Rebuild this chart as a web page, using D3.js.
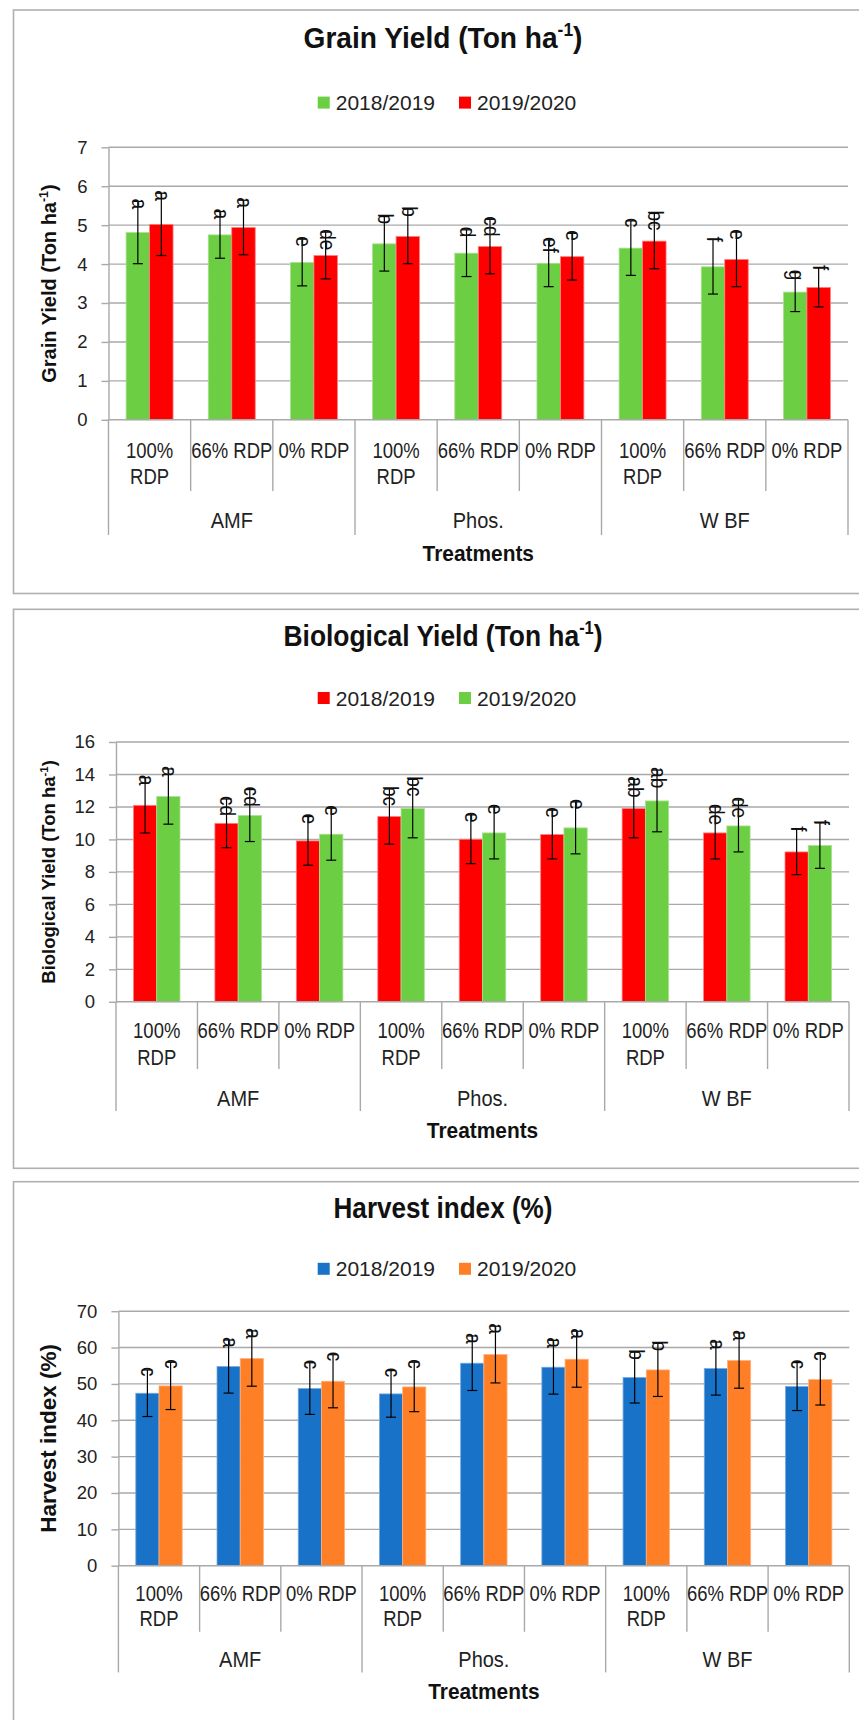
<!DOCTYPE html>
<html><head><meta charset="utf-8">
<script src="https://cdn.jsdelivr.net/npm/d3@7"></script>
<style>body{margin:0;background:#fff} svg{display:block}</style>
</head><body>
<script>
// ---------- DATA ----------
const groups = ["AMF", "Phos.", "W BF"];
const levelLabels = [["100%", "RDP"], ["66% RDP"], ["0% RDP"]];
const seasons = ["2018/2019", "2019/2020"];

// Grain yield (Ton ha-1)
const grainTicks = [0, 1, 2, 3, 4, 5, 6, 7];
const grain1819 = [4.81, 4.75, 4.04, 4.52, 4.28, 4.02, 4.41, 3.93, 3.28];
const grain1819Err = [0.80, 0.60, 0.60, 0.70, 0.60, 0.60, 0.70, 0.70, 0.50];
const grain1819Letters = ["a", "a", "e", "b", "d", "ef", "c", "f", "g"];
const grain1920 = [5.02, 4.94, 4.22, 4.71, 4.45, 4.19, 4.59, 4.12, 3.40];
const grain1920Err = [0.80, 0.70, 0.60, 0.70, 0.70, 0.60, 0.71, 0.70, 0.50];
const grain1920Letters = ["a", "a", "de", "b", "cd", "e", "bc", "e", "f"];

// Biological yield (Ton ha-1)
const bioTicks = [0, 2, 4, 6, 8, 10, 12, 14, 16];
const bio1819 = [12.10, 10.99, 9.91, 11.41, 10.01, 10.30, 11.90, 10.40, 9.23];
const bio1819Err = [1.70, 1.50, 1.50, 1.70, 1.50, 1.50, 1.80, 1.60, 1.40];
const bio1819Letters = ["a", "cd", "e", "bc", "e", "e", "ab", "de", "f"];
const bio1920 = [12.64, 11.47, 10.32, 11.90, 10.40, 10.71, 12.37, 10.83, 9.62];
const bio1920Err = [1.70, 1.60, 1.60, 1.80, 1.60, 1.60, 1.90, 1.60, 1.40];
const bio1920Letters = ["a", "cd", "e", "bc", "e", "e", "ab", "de", "f"];

// Harvest index (%)
const hiTicks = [0, 10, 20, 30, 40, 50, 60, 70];
const hi1819 = [47.43, 54.77, 48.72, 47.25, 55.69, 54.59, 51.74, 54.22, 49.27];
const hi1819Err = [6.4, 7.3, 7.1, 6.4, 7.5, 7.4, 7.0, 7.3, 6.6];
const hi1819Letters = ["c", "a", "c", "c", "a", "a", "b", "a", "c"];
const hi1920 = [49.45, 56.97, 50.73, 49.17, 58.07, 56.79, 53.85, 56.42, 51.19];
const hi1920Err = [6.5, 7.6, 7.3, 6.8, 7.8, 7.7, 7.3, 7.6, 7.0];
const hi1920Letters = ["c", "a", "c", "c", "a", "a", "b", "a", "c"];

// ---------- DRAWING ----------
const SANS = "'Liberation Sans', Arial, sans-serif";
const GRID = "#a9a9a9";

const svg = d3.select("body").append("svg").attr("width", 859).attr("height", 1720);

const categories = [];
groups.forEach(g => levelLabels.forEach(l => categories.push({ group: g, lines: l })));

function richText(sel, parts, fs) {
  let shift = 0;
  parts.forEach(p => {
    if (p.sup) {
      sel.append("tspan").attr("font-size", fs * 0.62).attr("dy", -fs * 0.4).text(p.sup);
      shift = fs * 0.4;
    } else {
      sel.append("tspan").attr("dy", shift).text(p.t);
      shift = 0;
    }
  });
}

// text compressed horizontally (mimics the condensed look of the reference)
function ctext(parent, x, y, sx, fs, bold) {
  return parent.append("text")
    .attr("transform", `translate(${x},${y}) scale(${sx},1)`)
    .attr("dy", "0.36em").attr("text-anchor", "middle")
    .attr("font-family", SANS).attr("font-size", fs)
    .attr("font-weight", bold ? "bold" : "normal")
    .attr("fill", bold ? "#111" : "#222");
}

function drawChart(cfg) {
  const g = svg.append("g");
  // panel
  g.append("rect").attr("x", 13.5).attr("y", cfg.panelTop).attr("width", 900).attr("height", cfg.panelH)
    .attr("fill", "#fff").attr("stroke", "#b0b0b0").attr("stroke-width", 1.6);

  // title
  const title = ctext(g, 443, cfg.titleY, cfg.titleScale, 29, true);
  richText(title, cfg.title, 29);

  // legend
  const leg = g.append("g");
  let lx = 0;
  cfg.series.forEach((s) => {
    const it = leg.append("g").attr("transform", `translate(${lx},0)`);
    it.append("rect").attr("x", 0).attr("y", -6).attr("width", 12).attr("height", 12).attr("fill", s.color);
    const t = it.append("text").attr("x", 18).attr("y", 0).attr("dy", "0.36em")
      .attr("font-family", SANS).attr("font-size", 21).attr("fill", "#222").text(s.name);
    lx += 18 + t.node().getComputedTextLength() + 24;
  });
  const lw = lx - 24;
  leg.attr("transform", `translate(${447 - lw / 2},${cfg.legendY})`);

  // scales
  const y = d3.scaleLinear().domain([0, d3.max(cfg.ticks)]).range([cfg.y0, cfg.yTop]);
  const x = d3.scaleBand().domain(d3.range(categories.length)).range([cfg.x0, cfg.x1]).paddingInner(0).paddingOuter(0);
  const xs = d3.scaleBand().domain([0, 1]).range([0, x.bandwidth()]).paddingInner(0).paddingOuter(0.75);

  // gridlines
  g.append("g").selectAll("line").data(cfg.ticks.filter(t => t > 0)).join("line")
    .attr("x1", cfg.x0).attr("x2", cfg.x1).attr("y1", d => y(d)).attr("y2", d => y(d))
    .attr("stroke", GRID).attr("stroke-width", 1.4);

  // y axis
  const ax = g.append("g").attr("transform", `translate(${cfg.x0},0)`)
    .call(d3.axisLeft(y).tickValues(cfg.ticks).tickSize(7).tickSizeOuter(0).tickPadding(14).tickFormat(d3.format("d")));
  ax.select(".domain").attr("stroke", GRID).attr("stroke-width", 1.4);
  ax.selectAll(".tick line").attr("stroke", GRID).attr("stroke-width", 1.4);
  ax.selectAll(".tick text").attr("font-family", SANS).attr("font-size", 18.5).attr("fill", "#222");

  // y-axis title
  const yt = g.append("text").attr("transform", `translate(${cfg.yTitleX},${(cfg.y0 + cfg.yTop) / 2}) rotate(-90)`)
    .attr("dy", "0.36em").attr("text-anchor", "middle").attr("font-family", SANS).attr("font-weight", "bold")
    .attr("font-size", cfg.yTitleSize).attr("fill", "#111");
  richText(yt, cfg.yTitle, cfg.yTitleSize);

  // bars
  cfg.series.forEach((s, si) => {
    const sg = g.append("g");
    const d = s.values.map((v, i) => ({ i, v, e: s.err[i], l: s.letters[i] }));
    sg.selectAll("rect").data(d).join("rect")
      .attr("x", p => x(p.i) + xs(si)).attr("width", xs.bandwidth())
      .attr("y", p => y(p.v)).attr("height", p => y(0) - y(p.v))
      .attr("fill", s.color).attr("stroke", s.edge).attr("stroke-width", 0.8);
    const cx = p => x(p.i) + xs(si) + xs.bandwidth() / 2;
    // error bars
    sg.selectAll("line.eb").data(d).join("line").attr("class", "eb")
      .attr("x1", cx).attr("x2", cx).attr("y1", p => y(p.v + p.e)).attr("y2", p => y(p.v - p.e))
      .attr("stroke", "#000").attr("stroke-width", 1.2);
    ["t", "b"].forEach(k => {
      sg.selectAll("line.cap" + k).data(d).join("line").attr("class", "cap" + k)
        .attr("x1", p => cx(p) - 5).attr("x2", p => cx(p) + 5)
        .attr("y1", p => y(k === "t" ? p.v + p.e : p.v - p.e)).attr("y2", p => y(k === "t" ? p.v + p.e : p.v - p.e))
        .attr("stroke", "#000").attr("stroke-width", 1.2);
    });
    // letters (rotated, reading downward)
    sg.selectAll("text.lt").data(d).join("text").attr("class", "lt")
      .attr("transform", p => `translate(${cx(p)},${y(p.v + p.e) - 3}) rotate(90) scale(0.85,1)`)
      .attr("dy", "0.27em").attr("font-family", SANS).attr("font-size", 22.5).attr("fill", "#111")
      .text(p => p.l);
  });

  // category axis separators
  const step = x.step();
  const seps = d3.range(categories.length + 1);
  g.append("g").selectAll("line").data(seps).join("line")
    .attr("x1", i => cfg.x0 + i * step).attr("x2", i => cfg.x0 + i * step)
    .attr("y1", cfg.y0).attr("y2", i => (i % 3 === 0 ? cfg.groupBottom : cfg.innerBottom))
    .attr("stroke", GRID).attr("stroke-width", 1.4);
  g.append("line").attr("x1", cfg.x0).attr("x2", cfg.x1).attr("y1", cfg.y0).attr("y2", cfg.y0)
    .attr("stroke", GRID).attr("stroke-width", 1.4);

  // category labels
  categories.forEach((c, i) => {
    const t = g.append("text")
      .attr("transform", `translate(${x(i) + x.bandwidth() / 2},0) scale(0.86,1)`)
      .attr("text-anchor", "middle").attr("font-family", SANS).attr("font-size", 21.5).attr("fill", "#222");
    c.lines.forEach((ln, k) => t.append("tspan").attr("x", 0)
      .attr("y", k === 0 ? cfg.catY1 : cfg.catY2).attr("dy", "0.36em").text(ln));
  });

  // group labels
  groups.forEach((gr, gi) => {
    ctext(g, cfg.x0 + (gi * 3 + 1.5) * step, cfg.groupY, 0.93, 21.5, false).text(gr);
  });

  // x title
  ctext(g, (cfg.x0 + cfg.x1) / 2, cfg.treatY, 0.95, 22, true).text("Treatments");
}

const GREEN = "#6ccf43", RED = "#ff0000", BLUE = "#1873c8", ORANGE = "#ff7f27";

drawChart({
  panelTop: 10, panelH: 583.5,
  title: [{ t: "Grain Yield (Ton ha" }, { sup: "-1" }, { t: ")" }], titleY: 48, legendY: 102.6, titleScale: 0.97,
  yTitle: [{ t: "Grain Yield (Ton ha" }, { sup: "-1" }, { t: ")" }], yTitleX: 56, yTitleSize: 20,
  ticks: grainTicks, x0: 108.5, x1: 848, y0: 419.8, yTop: 147.3,
  catY1: 450, catY2: 476, innerBottom: 491, groupBottom: 535, groupY: 520, treatY: 553,
  series: [
    { name: seasons[0], color: GREEN, edge: "#a8e08e", values: grain1819, err: grain1819Err, letters: grain1819Letters },
    { name: seasons[1], color: RED, edge: "#ff8080", values: grain1920, err: grain1920Err, letters: grain1920Letters }
  ]
});

drawChart({
  panelTop: 609.3, panelH: 559,
  title: [{ t: "Biological Yield (Ton ha" }, { sup: "-1" }, { t: ")" }], titleY: 645.5, legendY: 698, titleScale: 0.91,
  yTitle: [{ t: "Biological Yield (Ton ha" }, { sup: "-1" }, { t: ")" }], yTitleX: 55, yTitleSize: 18.5,
  ticks: bioTicks, x0: 116, x1: 849, y0: 1001.8, yTop: 742,
  catY1: 1030, catY2: 1057, innerBottom: 1069, groupBottom: 1111, groupY: 1098, treatY: 1129.6,
  series: [
    { name: seasons[0], color: RED, edge: "#ff8080", values: bio1819, err: bio1819Err, letters: bio1819Letters },
    { name: seasons[1], color: GREEN, edge: "#a8e08e", values: bio1920, err: bio1920Err, letters: bio1920Letters }
  ]
});

drawChart({
  panelTop: 1181.7, panelH: 600,
  title: [{ t: "Harvest index (%)" }], titleY: 1218, legendY: 1268.8, titleScale: 0.9,
  yTitle: [{ t: "Harvest index (%)" }], yTitleX: 56.4, yTitleSize: 22.5,
  ticks: hiTicks, x0: 118.4, x1: 849.3, y0: 1565.7, yTop: 1311.2,
  catY1: 1593.2, catY2: 1618, innerBottom: 1631.8, groupBottom: 1672.4, groupY: 1659.3, treatY: 1690.7,
  series: [
    { name: seasons[0], color: BLUE, edge: "#74a9dd", values: hi1819, err: hi1819Err, letters: hi1819Letters },
    { name: seasons[1], color: ORANGE, edge: "#ffb27d", values: hi1920, err: hi1920Err, letters: hi1920Letters }
  ]
});
</script>
</body></html>
